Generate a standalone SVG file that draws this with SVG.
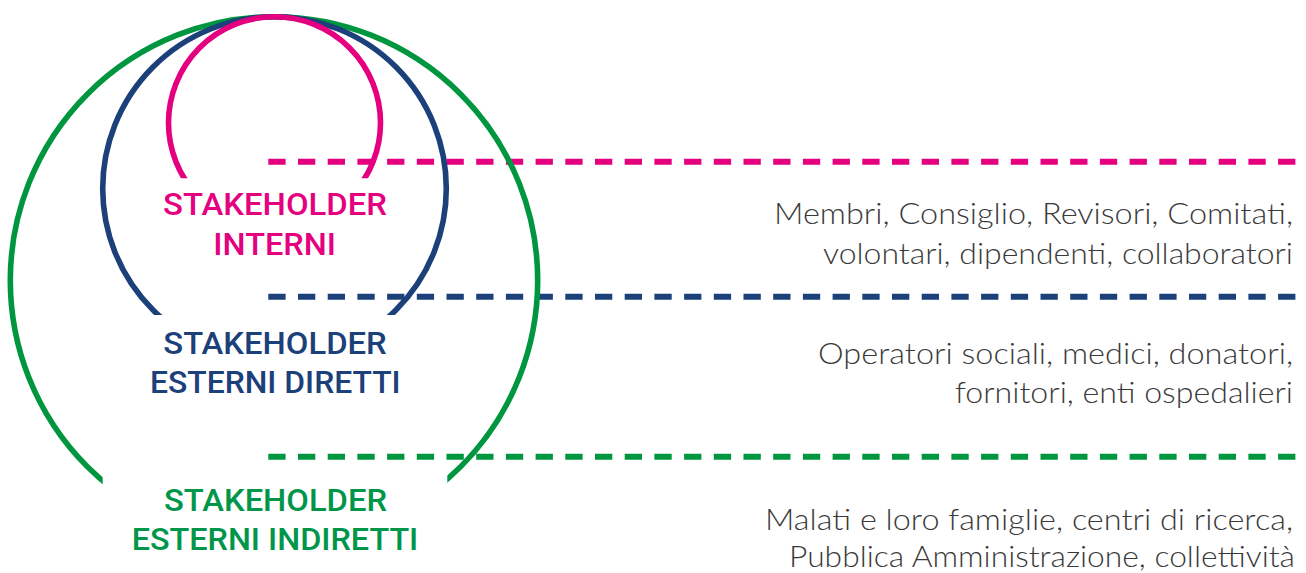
<svg xmlns="http://www.w3.org/2000/svg" width="1306" height="573" viewBox="0 0 1306 573">
  <defs>
    <style>
      .ring { fill: none; stroke-width: 5.6; }
      .dash { fill: none; stroke-width: 6; stroke-dasharray: 17.3 12.4; }
      .lbl { font-family: Roboto, "Liberation Sans", sans-serif; font-weight: 500; font-size: 31px; text-anchor: middle; }
      .desc { font-family: Lato, "Liberation Sans", sans-serif; font-weight: 300; font-size: 29px; fill: #3a3a3a; text-anchor: end; }
      .pink { stroke: #E4007F; }
      .navy { stroke: #1C4079; }
      .green { stroke: #00963F; }
    </style>
    <clipPath id="clipPink"><rect x="0" y="0" width="1306" height="178.3"/></clipPath>
    <clipPath id="clipNavy"><rect x="0" y="0" width="1306" height="315"/></clipPath>
    <clipPath id="clipGreen"><path clip-rule="evenodd" d="M0 0 H1306 V573 H0 Z M102.7 440 H447.3 V573 H102.7 Z"/></clipPath>
  </defs>
  <rect width="1306" height="573" fill="#ffffff"/>

  <g id="connectors">
    <line class="dash pink" x1="268.3" y1="161.7" x2="1296" y2="161.7"/>
    <line class="dash navy" x1="268.3" y1="296.7" x2="1296" y2="296.7"/>
    <line class="dash green" x1="268.3" y1="456.7" x2="1296" y2="456.7"/>
  </g>

  <g id="node-esterni-indiretti">
    <circle class="ring green" cx="274" cy="280.4" r="263.7" clip-path="url(#clipGreen)"/>
    <text class="lbl" fill="#00964A" x="275.5" y="510.7" textLength="223" lengthAdjust="spacingAndGlyphs">STAKEHOLDER</text>
    <text class="lbl" fill="#00964A" x="275" y="550" textLength="286.6" lengthAdjust="spacingAndGlyphs">ESTERNI INDIRETTI</text>
    <text class="desc" x="1293" y="530" textLength="528" lengthAdjust="spacingAndGlyphs">Malati e loro famiglie, centri di ricerca,</text>
    <text class="desc" x="1295" y="567" textLength="506" lengthAdjust="spacingAndGlyphs">Pubblica Amministrazione, collettività</text>
  </g>

  <g id="node-esterni-diretti">
    <circle class="ring navy" cx="274.5" cy="188.5" r="171.8" clip-path="url(#clipNavy)"/>
    <text class="lbl" fill="#1C4079" x="275" y="354" textLength="223.4" lengthAdjust="spacingAndGlyphs">STAKEHOLDER</text>
    <text class="lbl" fill="#1C4079" x="275.3" y="393" textLength="250.7" lengthAdjust="spacingAndGlyphs">ESTERNI DIRETTI</text>
    <text class="desc" x="1293" y="363.5" textLength="475" lengthAdjust="spacingAndGlyphs">Operatori sociali, medici, donatori,</text>
    <text class="desc" x="1293" y="403" textLength="338" lengthAdjust="spacingAndGlyphs">fornitori, enti ospedalieri</text>
  </g>

  <g id="node-interni">
    <circle class="ring pink" cx="274.5" cy="122.7" r="106" clip-path="url(#clipPink)"/>
    <text class="lbl" fill="#E4007F" x="275" y="215" textLength="224" lengthAdjust="spacingAndGlyphs">STAKEHOLDER</text>
    <text class="lbl" fill="#E4007F" x="274.7" y="255" textLength="122.7" lengthAdjust="spacingAndGlyphs">INTERNI</text>
    <text class="desc" x="1293" y="223.5" textLength="519" lengthAdjust="spacingAndGlyphs">Membri, Consiglio, Revisori, Comitati,</text>
    <text class="desc" x="1293" y="263.5" textLength="470" lengthAdjust="spacingAndGlyphs">volontari, dipendenti, collaboratori</text>
  </g>
</svg>
